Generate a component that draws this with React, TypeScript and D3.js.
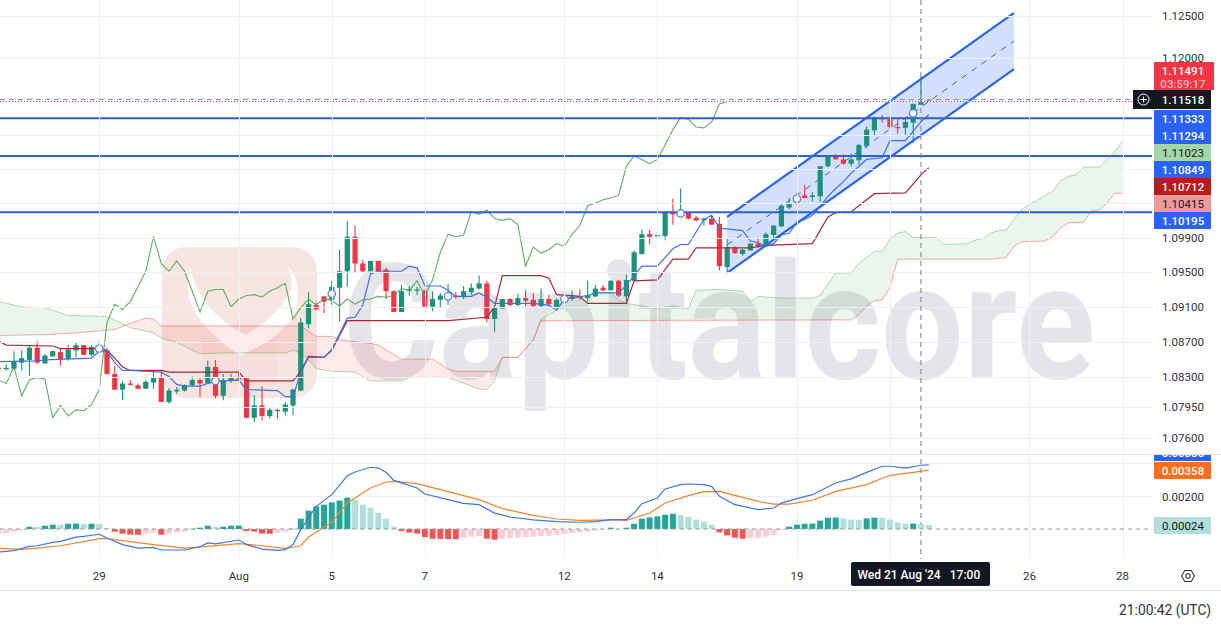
import * as d3 from "d3";
import { useEffect, useRef } from "react";

// 4H EURUSD bars. First row is bar -1 (half cut by the left edge)
const ohlc: number[][] = [
  [1.084, 1.0842, 1.0838, 1.0839], [1.0839, 1.0844, 1.0837, 1.084], [1.0839, 1.0859, 1.0838, 1.0847],
  [1.0846, 1.086, 1.0837, 1.0851], [1.0849, 1.0866, 1.0831, 1.0863], [1.0863, 1.0871, 1.0844, 1.0846],
  [1.0845, 1.0856, 1.0845, 1.0854], [1.0853, 1.086, 1.0853, 1.0859], [1.0858, 1.0862, 1.0843, 1.085],
  [1.085, 1.0866, 1.0848, 1.0861], [1.086, 1.0869, 1.0852, 1.0866], [1.0866, 1.0866, 1.0854, 1.0855],
  [1.0855, 1.0866, 1.0853, 1.0864], [1.0862, 1.0871, 1.0859, 1.0861], [1.086, 1.0863, 1.0832, 1.0833],
  [1.0833, 1.0842, 1.0815, 1.0815], [1.0815, 1.0825, 1.0803, 1.0822], [1.0822, 1.0826, 1.082, 1.0821],
  [1.082, 1.0822, 1.0816, 1.0816], [1.0816, 1.0826, 1.0816, 1.0824], [1.0823, 1.0836, 1.0816, 1.0829],
  [1.0829, 1.0836, 1.0801, 1.0801], [1.0801, 1.0817, 1.0799, 1.0814], [1.0813, 1.0818, 1.081, 1.0815],
  [1.0814, 1.0821, 1.0813, 1.082], [1.082, 1.083, 1.0819, 1.0826], [1.0826, 1.0828, 1.0807, 1.0822],
  [1.0822, 1.0848, 1.0822, 1.0841], [1.0841, 1.0849, 1.0805, 1.0808], [1.0808, 1.0833, 1.0803, 1.0826],
  [1.0825, 1.0833, 1.0823, 1.0829], [1.0828, 1.0835, 1.0826, 1.0827], [1.0828, 1.0828, 1.0782, 1.0783],
  [1.0783, 1.0809, 1.0778, 1.0797], [1.0797, 1.0819, 1.078, 1.0785], [1.0785, 1.0794, 1.0782, 1.0792],
  [1.0792, 1.0793, 1.0782, 1.0791], [1.079, 1.0801, 1.0786, 1.0798], [1.0797, 1.0816, 1.0786, 1.0815],
  [1.0814, 1.0897, 1.0814, 1.0892], [1.089, 1.0927, 1.0885, 1.0913], [1.0912, 1.0915, 1.0906, 1.0907],
  [1.0922, 1.0922, 1.0903, 1.0916], [1.0918, 1.094, 1.0912, 1.0933], [1.0932, 1.0976, 1.0893, 1.0951],
  [1.0951, 1.1009, 1.0933, 1.0991], [1.0991, 1.1004, 1.0949, 1.096], [1.096, 1.0964, 1.0949, 1.0951],
  [1.0951, 1.0963, 1.0951, 1.0963], [1.0963, 1.0963, 1.0951, 1.0951], [1.0953, 1.0955, 1.0919, 1.0928],
  [1.0928, 1.0929, 1.0904, 1.0904], [1.0904, 1.0935, 1.0904, 1.0928], [1.0929, 1.0934, 1.0923, 1.093],
  [1.0929, 1.0933, 1.0924, 1.093], [1.0929, 1.093, 1.0909, 1.091], [1.091, 1.0928, 1.0905, 1.0919],
  [1.0918, 1.0926, 1.0909, 1.0923], [1.092, 1.0936, 1.0912, 1.0924], [1.0923, 1.0927, 1.0919, 1.0921],
  [1.0921, 1.0934, 1.0919, 1.0928], [1.0927, 1.0937, 1.0924, 1.0932], [1.0931, 1.0946, 1.093, 1.0937],
  [1.0937, 1.094, 1.0892, 1.0896], [1.0896, 1.0909, 1.0881, 1.0909], [1.0908, 1.0919, 1.0908, 1.0919],
  [1.0919, 1.092, 1.0911, 1.0912], [1.0912, 1.0925, 1.0911, 1.092], [1.092, 1.0929, 1.0911, 1.0917],
  [1.0918, 1.0926, 1.0909, 1.0911], [1.0911, 1.0931, 1.0909, 1.0919], [1.0919, 1.0924, 1.091, 1.0913],
  [1.091, 1.092, 1.0908, 1.0918], [1.0919, 1.0924, 1.0915, 1.0919], [1.0919, 1.0929, 1.0917, 1.0922],
  [1.0922, 1.093, 1.0918, 1.0921], [1.092, 1.094, 1.0916, 1.0923], [1.0922, 1.0935, 1.0921, 1.0931],
  [1.0932, 1.0935, 1.0928, 1.0929], [1.0929, 1.0941, 1.0929, 1.094], [1.094, 1.0941, 1.0921, 1.0923],
  [1.0922, 1.0947, 1.0916, 1.0941], [1.094, 1.0975, 1.094, 1.0973], [1.0971, 1.0999, 1.097, 1.0994],
  [1.0994, 1.0999, 1.0982, 1.0991], [1.0992, 1.0997, 1.0989, 1.0993], [1.0992, 1.102, 1.0987, 1.102],
  [1.102, 1.1035, 1.1005, 1.1017], [1.1018, 1.1047, 1.1018, 1.1022], [1.1019, 1.102, 1.1011, 1.1012],
  [1.1013, 1.1015, 1.1009, 1.101], [1.101, 1.1013, 1.1004, 1.1012], [1.1012, 1.1015, 1.1005, 1.1005],
  [1.1006, 1.1014, 1.0952, 1.0957], [1.0956, 1.0989, 1.0949, 1.0979], [1.0979, 1.098, 1.0971, 1.0972],
  [1.0971, 1.0977, 1.0969, 1.0976], [1.0975, 1.0983, 1.0975, 1.0983], [1.0983, 1.0989, 1.0978, 1.098],
  [1.098, 1.0996, 1.098, 1.0994], [1.0993, 1.1004, 1.0988, 1.1004], [1.1003, 1.1029, 1.1002, 1.1027],
  [1.1025, 1.1036, 1.1023, 1.103], [1.1036, 1.1042, 1.1028, 1.1034], [1.1039, 1.1051, 1.1036, 1.1036],
  [1.1037, 1.1043, 1.1032, 1.1039], [1.1038, 1.1073, 1.1031, 1.1073], [1.1073, 1.1086, 1.1072, 1.1085],
  [1.1085, 1.1087, 1.1081, 1.1081], [1.1081, 1.1087, 1.1075, 1.1076], [1.1076, 1.1088, 1.1073, 1.1081],
  [1.108, 1.1099, 1.1075, 1.1098], [1.1097, 1.112, 1.1094, 1.1116], [1.1115, 1.1131, 1.1109, 1.113],
  [1.113, 1.1133, 1.1124, 1.1128], [1.1128, 1.1131, 1.1117, 1.1119], [1.1119, 1.1128, 1.1111, 1.1118],
  [1.1118, 1.1129, 1.111, 1.1125], [1.1124, 1.1147, 1.11, 1.1146], [1.1145, 1.1178, 1.1145, 1.1149],
  [1.115, 1.1151, 1.1149, 1.11491],
];

// [bar, price] vertices
const tenkan = [
  [-1, 1.0847], [4, 1.0848], [5, 1.0849], [11, 1.0851], [12, 1.0859], [13, 1.0859], [14, 1.0846], [15, 1.0837],
  [16, 1.0837], [20, 1.0835], [21, 1.083], [22, 1.0821], [23, 1.0819], [25, 1.0819], [26, 1.0822], [27, 1.0825],
  [28, 1.0825], [30, 1.0826], [31, 1.0815], [35, 1.0814], [36, 1.0807], [37, 1.0807], [38, 1.0835], [39, 1.0852],
  [41, 1.0852], [42, 1.0861], [44, 1.0897], [45, 1.0898], [46, 1.0912], [47, 1.0948], [48, 1.0951], [51, 1.0951],
  [52, 1.0957], [53, 1.0955], [54, 1.0934], [56, 1.0934], [57, 1.0929], [58, 1.0922], [60, 1.0922], [61, 1.0926],
  [62, 1.0921], [63, 1.0914], [68, 1.0914], [70, 1.0912], [71, 1.0906], [72, 1.0919], [75, 1.0923], [76, 1.0926],
  [79, 1.0926], [80, 1.0935], [82, 1.0957], [84, 1.0957], [86, 1.0977], [87, 1.0982], [88, 1.0982], [90, 1.1011],
  [91, 1.1016], [92, 1.1001], [95, 1.0998], [96, 1.0986], [97, 1.0984], [98, 1.098], [99, 1.0983], [100, 1.0993],
  [101, 1.0995], [102, 1.1008], [103, 1.1011], [104, 1.1016], [105, 1.1026], [106, 1.1038], [107, 1.1047],
  [108, 1.1055], [109, 1.1065], [110, 1.1073], [111, 1.1081], [113, 1.1083], [114, 1.1103], [116, 1.1103],
  [118, 1.1125], [119, 1.11333],
];
const kijun = [
  [-1, 1.0871], [0, 1.0866], [6, 1.0865], [7, 1.0862], [12, 1.0862], [13, 1.086], [14, 1.0851], [15, 1.0841],
  [16, 1.0837], [20, 1.0837], [21, 1.0835], [30, 1.0835], [31, 1.0825], [37, 1.0825], [38, 1.0836], [39, 1.0853],
  [41, 1.0852], [42, 1.086], [44, 1.0894], [57, 1.0894], [62, 1.0898], [63, 1.091], [64, 1.0946], [69, 1.0946],
  [70, 1.0943], [71, 1.0924], [74, 1.0922], [75, 1.0914], [80, 1.0914], [81, 1.094], [84, 1.0941], [86, 1.0965],
  [88, 1.0965], [89, 1.0978], [96, 1.0978], [98, 1.0981], [104, 1.0983], [106, 1.1014], [107, 1.1019], [109, 1.102],
  [112, 1.1041], [116, 1.1042], [118, 1.1063], [119, 1.10712],
];
const leadA = [
  [-1, 1.0916], [2, 1.091], [5, 1.0909], [8, 1.09], [13, 1.0899], [16, 1.0886], [19, 1.088], [20, 1.0874],
  [22, 1.0869], [25, 1.0856], [28, 1.0857], [36, 1.0857], [37, 1.086], [38, 1.0857], [39, 1.0849], [40, 1.0839],
  [42, 1.0836], [45, 1.0835], [47, 1.0825], [51, 1.0825], [52, 1.0829], [57, 1.0829], [61, 1.0816], [62, 1.0815],
  [63, 1.0825], [64, 1.0852], [66, 1.0852], [68, 1.0872], [69, 1.0896], [71, 1.0906], [72, 1.0919], [75, 1.0922],
  [76, 1.0926], [78, 1.0926], [79, 1.0918], [80, 1.0914], [84, 1.0908], [86, 1.0911], [88, 1.0908], [89, 1.0929],
  [92, 1.093], [95, 1.0928], [96, 1.0916], [97, 1.0922], [100, 1.092], [104, 1.092], [105, 1.0923], [107, 1.0949],
  [109, 1.0949], [110, 1.096], [112, 1.0974], [113, 1.0974], [114, 1.0988], [115, 1.0995], [116, 1.0997],
  [117, 1.099], [120, 1.099], [121, 1.0982], [124, 1.0983], [125, 1.0987], [126, 1.0989], [127, 1.0995],
  [128, 1.0998], [129, 1.0999], [131, 1.1023], [132, 1.1028], [135, 1.1044], [136, 1.1056], [137, 1.1061],
  [138, 1.1063], [139, 1.1072], [141, 1.1072], [142, 1.1081], [143, 1.109], [144, 1.11023],
];
const leadB = [
  [-1, 1.0877], [5, 1.0878], [9, 1.088], [14, 1.0884], [16, 1.0891], [18, 1.0897], [19, 1.0896], [20, 1.0888],
  [38, 1.0888], [39, 1.0882], [40, 1.0876], [42, 1.0876], [43, 1.0872], [47, 1.0868], [48, 1.0866], [51, 1.085],
  [55, 1.085], [57, 1.0839], [58, 1.0836], [63, 1.0836], [64, 1.0852], [66, 1.0852], [68, 1.0872], [69, 1.0894],
  [109, 1.0895], [110, 1.0901], [111, 1.0911], [112, 1.0917], [113, 1.0918], [114, 1.0932], [115, 1.0965],
  [127, 1.0965], [129, 1.0967], [130, 1.098], [131, 1.0985], [134, 1.0986], [135, 1.0991], [136, 1.1001],
  [137, 1.1007], [139, 1.1008], [140, 1.1021], [141, 1.1022], [142, 1.103], [143, 1.10415], [144, 1.10415],
];
const laggingShift = 25; // lagging span = close moved back this many bars

// white ring marks on the tenkan, every 15 bars
const ringMarks = [
  [12, 1.0862], [27, 1.0825], [42, 1.0925], [57, 1.0922], [72, 1.0919], [87, 1.1018], [102, 1.1035], [117, 1.1135],
];

// drawings
const levels = [1.11294, 1.10849, 1.10195];
const channelBars = [93, 130];
const channelTop = [1.1014, 1.12536];
const channelBottom = [1.09491, 1.11872];

// MACD pane in points (0.00001)
const macdHist = [
  -28, -26, -16, -8, 14, 12, 20, 26, 25, 32, 33, 31, 32, 31, 6, -16, -28, -34, -35, -28, -20, -35, -28, -20, -16,
  2, 8, 20, 12, 14, 20, 21, -12, -16, -28, -29, -24, -16, 2, 63, 112, 138, 148, 162, 173, 191, 177, 148, 130, 99,
  63, 14, -12, -22, -28, -49, -59, -60, -61, -62, -53, -47, -43, -59, -65, -59, -55, -53, -49, -47, -43, -41, -35,
  -30, -24, -20, -16, -10, -4, 8, 0, 8, 32, 63, 71, 77, 87, 93, 85, 75, 57, 45, 26, -20, -39, -53, -59, -55, -53,
  -47, -37, -6, 14, 26, 32, 33, 51, 69, 70, 63, 57, 56, 65, 69, 68, 57, 39, 32, 33, 32, 24,
];
const macdLine = [
  [-1, -140], [1, -132], [3, -106], [4, -102], [6, -81], [7, -75], [9, -49], [10, -45], [12, -32], [13, -55],
  [15, -95], [17, -116], [19, -112], [20, -128], [23, -128], [25, -108], [26, -85], [27, -91], [30, -67], [31, -95],
  [33, -122], [35, -130], [36, -126], [37, -95], [38, -4], [39, 67], [40, 138], [42, 209], [44, 325], [45, 347],
  [47, 376], [48, 371], [49, 345], [50, 296], [53, 250], [54, 213], [57, 179], [59, 156], [61, 148], [63, 97],
  [65, 73], [68, 55], [71, 45], [74, 41], [76, 45], [78, 57], [80, 57], [81, 97], [82, 154], [84, 189], [85, 244],
  [87, 270], [88, 274], [90, 270], [91, 260], [92, 199], [94, 148], [97, 118], [99, 128], [100, 158], [102, 185],
  [104, 209], [107, 280], [109, 305], [111, 345], [113, 382], [114, 382], [116, 371], [118, 388], [119, 390],
];
const signalLine = [
  [-1, -118], [2, -124], [4, -116], [7, -102], [10, -77], [12, -59], [13, -59], [15, -71], [19, -95], [23, -116],
  [26, -106], [30, -89], [33, -102], [36, -118], [38, -102], [39, -49], [42, 41], [44, 158], [47, 250], [49, 286],
  [50, 290], [53, 276], [56, 240], [59, 203], [61, 179], [64, 124], [68, 83], [71, 61], [74, 53], [78, 55], [80, 53],
  [83, 97], [85, 158], [88, 203], [90, 227], [92, 229], [94, 205], [97, 168], [99, 152], [101, 152], [104, 175],
  [107, 229], [111, 270], [114, 327], [117, 345], [119, 358],
];

// axes
const priceTicks = [1.125, 1.12, 1.115, 1.111, 1.107, 1.103, 1.099, 1.095, 1.091, 1.087, 1.083, 1.0795, 1.076];
const priceLabels = ["1.12500", "1.12000", "", "", "", "", "1.09900", "1.09500", "1.09100", "1.08700", "1.08300", "1.07950", "1.07600"];
const macdTicks = [400, 200];
const timeBars = [12, 30, 42, 54, 72, 84, 102, 114, 132, 144];
const timeLabels = ["29", "Aug", "5", "7", "12", "14", "19", "", "26", "28"];
const crosshairBar = 118;

// stacked price tags on the right: text, y, fill, text colour
const priceTags: [string, number, string, string][] = [
  ["1.11333", 118.5, "#2962ff", "#fff"],
  ["1.11294", 135.5, "#2962ff", "#fff"],
  ["1.11023", 152.5, "#a5d6a7", "#131722"],
  ["1.10849", 169.5, "#2962ff", "#fff"],
  ["1.10712", 186.5, "#b71c1c", "#fff"],
  ["1.10415", 203.5, "#ef9a9a", "#131722"],
  ["1.10195", 220.5, "#2962ff", "#fff"],
];

const FONT = "Roboto, sans-serif";

export default function App() {
  const svgRef = useRef<SVGSVGElement>(null);

  useEffect(() => {
    if (!svgRef.current) return;
    const svg = d3.select(svgRef.current);
    svg.selectAll("*").remove();

    const W = 1221;
    const plotRight = 1152;

    const x = d3.scaleLinear().domain([0, 144]).range([6.2, 1122.5]);
    const y = d3.scaleLog().domain([1.076, 1.125]).range([438, 16]);
    const yM = d3.scaleLinear().domain([0, 400]).range([529, 463.3]);

    const defs = svg.append("defs");
    defs.append("clipPath").attr("id", "plot").append("rect").attr("width", plotRight).attr("height", 454);
    defs.append("clipPath").attr("id", "pane2").append("rect").attr("y", 455).attr("width", W).attr("height", 105);

    svg.append("rect").attr("width", W).attr("height", 625).attr("fill", "#fff");

    const plot = svg.append("g").attr("clip-path", "url(#plot)");

    // --- watermark ---
    const logo = plot.append("g");
    logo.append("rect").attr("x", 162).attr("y", 247).attr("width", 155).attr("height", 151).attr("rx", 24).attr("fill", "#f7e5e2");
    logo.append("path").attr("d", "M202,335 L240,357 L277,335 L277,385 L202,385 Z").attr("fill", "#f5dedb");
    logo.append("path").attr("fill", "#fff").attr("d", "M190,267 Q182,298 202,322 Q222,345 240,355 L258,340 Q234,332 216,314 Q196,294 190,267 Z");
    logo.append("path").attr("fill", "#fff").attr("d", "M287,265 Q296,282 288,296 Q276,318 240,338 L240,355 Q280,340 294,314 Q305,286 287,265 Z");
    const mark = plot.append("text").text("Capitalcore")
      .attr("font-family", FONT).attr("font-weight", 700).attr("font-size", 161)
      .attr("fill", "#e0e0e7").attr("opacity", 0.85);
    // squeeze the word to its width with a transform, so its box really ends there
    const natural = (mark.node() as SVGTextElement).getComputedTextLength();
    mark.attr("transform", `translate(343,378) scale(${752 / natural},1)`);

    // --- grid ---
    const gridColor = "#eef0f5";
    const hGrid = (g: any, vals: number[], sc: any) =>
      g.selectAll(null).data(vals).enter().append("line")
        .attr("x1", 0).attr("x2", plotRight)
        .attr("y1", (d: number) => Math.round(sc(d)) + 0.5).attr("y2", (d: number) => Math.round(sc(d)) + 0.5)
        .attr("stroke", gridColor);
    hGrid(svg.append("g"), priceTicks, y);
    hGrid(svg.append("g"), macdTicks, yM);
    svg.append("g").selectAll(null).data(timeBars).enter().append("line")
      .attr("x1", (d) => Math.round(x(d)) + 0.5).attr("x2", (d) => Math.round(x(d)) + 0.5)
      .attr("y1", 0).attr("y2", 558)
      .attr("stroke", gridColor);

    // --- ichimoku cloud ---
    const bars = d3.range(-1, 145);
    const interp = (s: number[][]) => d3.scaleLinear().domain(s.map((d) => d[0])).range(s.map((d) => d[1]));
    const aAt = interp(leadA);
    const bAt = interp(leadB);
    defs.append("clipPath").attr("id", "aboveB").append("path")
      .attr("d", d3.area<number>().x((d) => x(d)).y0(0).y1((d) => y(bAt(d)))(bars) as string);
    defs.append("clipPath").attr("id", "belowB").append("path")
      .attr("d", d3.area<number>().x((d) => x(d)).y0(454).y1((d) => y(bAt(d)))(bars) as string);
    const cloud = d3.area<number>().x((d) => x(d)).y0((d) => y(bAt(d))).y1((d) => y(aAt(d)))(bars) as string;
    plot.append("path").attr("d", cloud).attr("fill", "#43a047").attr("fill-opacity", 0.11).attr("clip-path", "url(#aboveB)");
    plot.append("path").attr("d", cloud).attr("fill", "#f44336").attr("fill-opacity", 0.11).attr("clip-path", "url(#belowB)");

    const priceLine = d3.line<number[]>().x((d) => x(d[0])).y((d) => y(d[1]));
    const drawLine = (g: any, path: string, color: string, w: number, op = 1) =>
      g.append("path").attr("d", path).attr("fill", "none").attr("stroke", color).attr("stroke-width", w).attr("stroke-opacity", op);
    drawLine(plot, priceLine(leadA) as string, "#43a047", 1, 0.4);
    drawLine(plot, priceLine(leadB) as string, "#f44336", 1, 0.45);

    // --- parallel channel ---
    const [c0, c1] = channelBars;
    const chan = [
      [c0, channelTop[0]], [c1, channelTop[1]], [c1, channelBottom[1]], [c0, channelBottom[0]],
    ];
    plot.append("path").attr("d", (priceLine(chan) as string) + "Z").attr("fill", "#2962ff").attr("fill-opacity", 0.2);

    // --- candles ---
    const candle = plot.selectAll(null).data(ohlc).enter().append("g");
    const cx = (i: number) => x(i - 1);
    const candleColor = (d: number[]) => (d[3] >= d[0] ? "#1c9279" : "#f23645");
    candle.append("line")
      .attr("x1", (_, i) => cx(i)).attr("x2", (_, i) => cx(i))
      .attr("y1", (d) => y(d[1])).attr("y2", (d) => y(d[2]))
      .attr("stroke", candleColor).attr("stroke-width", 1.1);
    candle.append("rect")
      .attr("x", (_, i) => cx(i) - 2.6).attr("width", 5.2)
      .attr("y", (d) => y(Math.max(d[0], d[3])))
      .attr("height", (d) => Math.max(1.3, Math.abs(y(d[0]) - y(d[3]))))
      .attr("fill", candleColor);

    // --- ichimoku lines ---
    const lagging = ohlc.slice(laggingShift).map((d, i) => [i - 1, d[3]]);
    drawLine(plot, priceLine(lagging) as string, "#43a047", 1.1, 0.85);
    drawLine(plot, priceLine(kijun) as string, "#a52a38", 1.2);
    drawLine(plot, priceLine(tenkan) as string, "#3f72e0", 1.2);

    // --- drawings on top ---
    plot.selectAll(null).data(levels).enter().append("line")
      .attr("x1", 0).attr("x2", plotRight).attr("y1", (d) => y(d)).attr("y2", (d) => y(d))
      .attr("stroke", "#2f62c6").attr("stroke-width", 2);
    const chanLine = (a: number, b: number, dash?: string) => {
      const p = drawLine(plot, priceLine([[c0, a], [c1, b]]) as string, "#2a66e8", dash ? 1 : 2.2);
      if (dash) p.attr("stroke-dasharray", dash);
    };
    chanLine(channelTop[0], channelTop[1]);
    chanLine(channelBottom[0], channelBottom[1]);
    chanLine((channelTop[0] + channelBottom[0]) / 2, (channelTop[1] + channelBottom[1]) / 2, "6 6");

    plot.selectAll(null).data(ringMarks).enter().append("circle")
      .attr("cx", (d) => x(d[0])).attr("cy", (d) => y(d[1])).attr("r", 3.7)
      .attr("fill", "#fff").attr("stroke", "#5a82dc").attr("stroke-width", 1.3);

    // crosshair level, then last price
    const hLine = (py: number, color: string, dash: string) =>
      svg.append("line").attr("x1", 0).attr("x2", plotRight).attr("y1", py).attr("y2", py)
        .attr("stroke", color).attr("stroke-dasharray", dash);
    hLine(99.5, "#9598a1", "5 4");
    hLine(Math.round(y(1.11491)) + 0.5, "#f23645", "1 2");
    svg.append("line").attr("x1", x(crosshairBar)).attr("x2", x(crosshairBar)).attr("y1", 0).attr("y2", 559)
      .attr("stroke", "#787b86").attr("stroke-dasharray", "5 4");

    // --- MACD pane ---
    const pane = svg.append("g").attr("clip-path", "url(#pane2)");
    hLine(yM(0), "#9598a1", "4 4");
    const histColor = (d: number, i: number) => {
      const prev = i > 0 ? macdHist[i - 1] : d;
      if (d >= 0) return d >= prev ? "#26a69a" : "#b2dfdb";
      return d < prev ? "#ff5252" : "#ffcdd2";
    };
    pane.selectAll(null).data(macdHist).enter().append("rect")
      .attr("x", (_, i) => cx(i) - 3).attr("width", 6)
      .attr("y", (d) => Math.min(yM(d), yM(0)))
      .attr("height", (d) => Math.max(0.6, Math.abs(yM(d) - yM(0))))
      .attr("fill", histColor);
    const macdPath = d3.line<number[]>().x((d) => x(d[0])).y((d) => yM(d[1]));
    drawLine(pane, macdPath(signalLine) as string, "#ef8534", 1.2);
    drawLine(pane, macdPath(macdLine) as string, "#3f76e2", 1.2);

    // --- separators ---
    const sep = (py: number) =>
      svg.append("line").attr("x1", 0).attr("x2", W).attr("y1", py).attr("y2", py).attr("stroke", "#e0e3eb").attr("stroke-width", 1.2);
    sep(454.5);
    sep(590.5);

    // --- axis labels ---
    const label = (s: string, lx: number, ly: number, fill = "#2f3340", anchor = "middle", size = 12, weight = 400) =>
      svg.append("text").text(s).attr("x", lx).attr("y", ly).attr("text-anchor", anchor)
        .attr("dominant-baseline", "central").attr("font-family", FONT).attr("font-size", size)
        .attr("font-weight", weight).attr("fill", fill);
    priceLabels.forEach((t, i) => { if (t) label(t, 1183, y(priceTicks[i]), "#2f3340", "middle", 11.5); });
    timeLabels.forEach((t, i) => { if (t) label(t, x(timeBars[i]), 576, "#2f3340", "middle", 11.5); });

    // tags stacked on the price axis
    const tag = (s: string, cy: number, h: number, fill: string, color: string, w = 57, weight = 500) => {
      svg.append("rect").attr("x", 1154).attr("y", cy - h / 2).attr("width", w).attr("height", h).attr("fill", fill);
      label(s, 1183, cy, color, "middle", 11.5, weight);
    };
    svg.append("rect").attr("x", 1154).attr("y", 62).attr("width", 60).attr("height", 28).attr("fill", "#f23645");
    label("1.11491", 1183, 71, "#fff", "middle", 11.5, 500);
    label("03:59:17", 1183, 84, "#fbb4ba", "middle", 11.5, 500);
    tag("1.11518", 99.5, 19, "#131722", "#fff");
    svg.append("rect").attr("x", 1133).attr("y", 90).attr("width", 21).attr("height", 19).attr("fill", "#131722");
    svg.append("circle").attr("cx", 1143.5).attr("cy", 99.5).attr("r", 5.5).attr("fill", "none").attr("stroke", "#fff");
    svg.append("path").attr("d", "M1143.5,96.5V102.5M1140.5,99.5H1146.5").attr("stroke", "#fff");
    priceTags.forEach(([s, cy, fill, color]) => tag(s, cy, 17, fill, color, 57, color === "#fff" ? 500 : 400));
    label("0.00200", 1183, yM(200) + 0.5, "#2f3340", "middle", 11.5);

    // MACD tags (first one is cut by the pane border)
    const macdTags = svg.append("g").attr("clip-path", "url(#pane2)");
    macdTags.append("rect").attr("x", 1154).attr("y", 444).attr("width", 57).attr("height", 17).attr("fill", "#2962ff");
    macdTags.append("text").text("0.00385").attr("x", 1183).attr("y", 452.5).attr("text-anchor", "middle")
      .attr("dominant-baseline", "central").attr("font-family", FONT).attr("font-size", 11.5).attr("font-weight", 500).attr("fill", "#fff");
    tag("0.00358", 470.5, 17, "#ff6d1f", "#fff");
    tag("0.00024", 525.5, 17, "#b2dfdb", "#131722", 57, 400);

    // crosshair time tag
    svg.append("rect").attr("x", 851).attr("y", 562).attr("width", 139).attr("height", 24).attr("rx", 2).attr("fill", "#131722");
    label("Wed 21 Aug '24", 899, 575, "#fff", "middle", 12, 500);
    label("17:00", 965, 575, "#fff", "middle", 12, 500);

    // settings gear
    svg.append("path").attr("d", "M1181.5,576 L1184.7,570.5 L1191.3,570.5 L1194.5,576 L1191.3,581.5 L1184.7,581.5 Z")
      .attr("fill", "none").attr("stroke", "#2f3340").attr("stroke-width", 1.1);
    svg.append("circle").attr("cx", 1188).attr("cy", 576).attr("r", 2.2).attr("fill", "none").attr("stroke", "#2f3340").attr("stroke-width", 1.1);

    label("21:00:42 (UTC)", 1211, 610, "#2f3340", "end", 13.8);
  }, []);

  return (
    <svg
      ref={svgRef}
      width={1221}
      height={625}
      viewBox="0 0 1221 625"
      style={{ position: "fixed", left: 0, top: 0, display: "block" }}
    />
  );
}
